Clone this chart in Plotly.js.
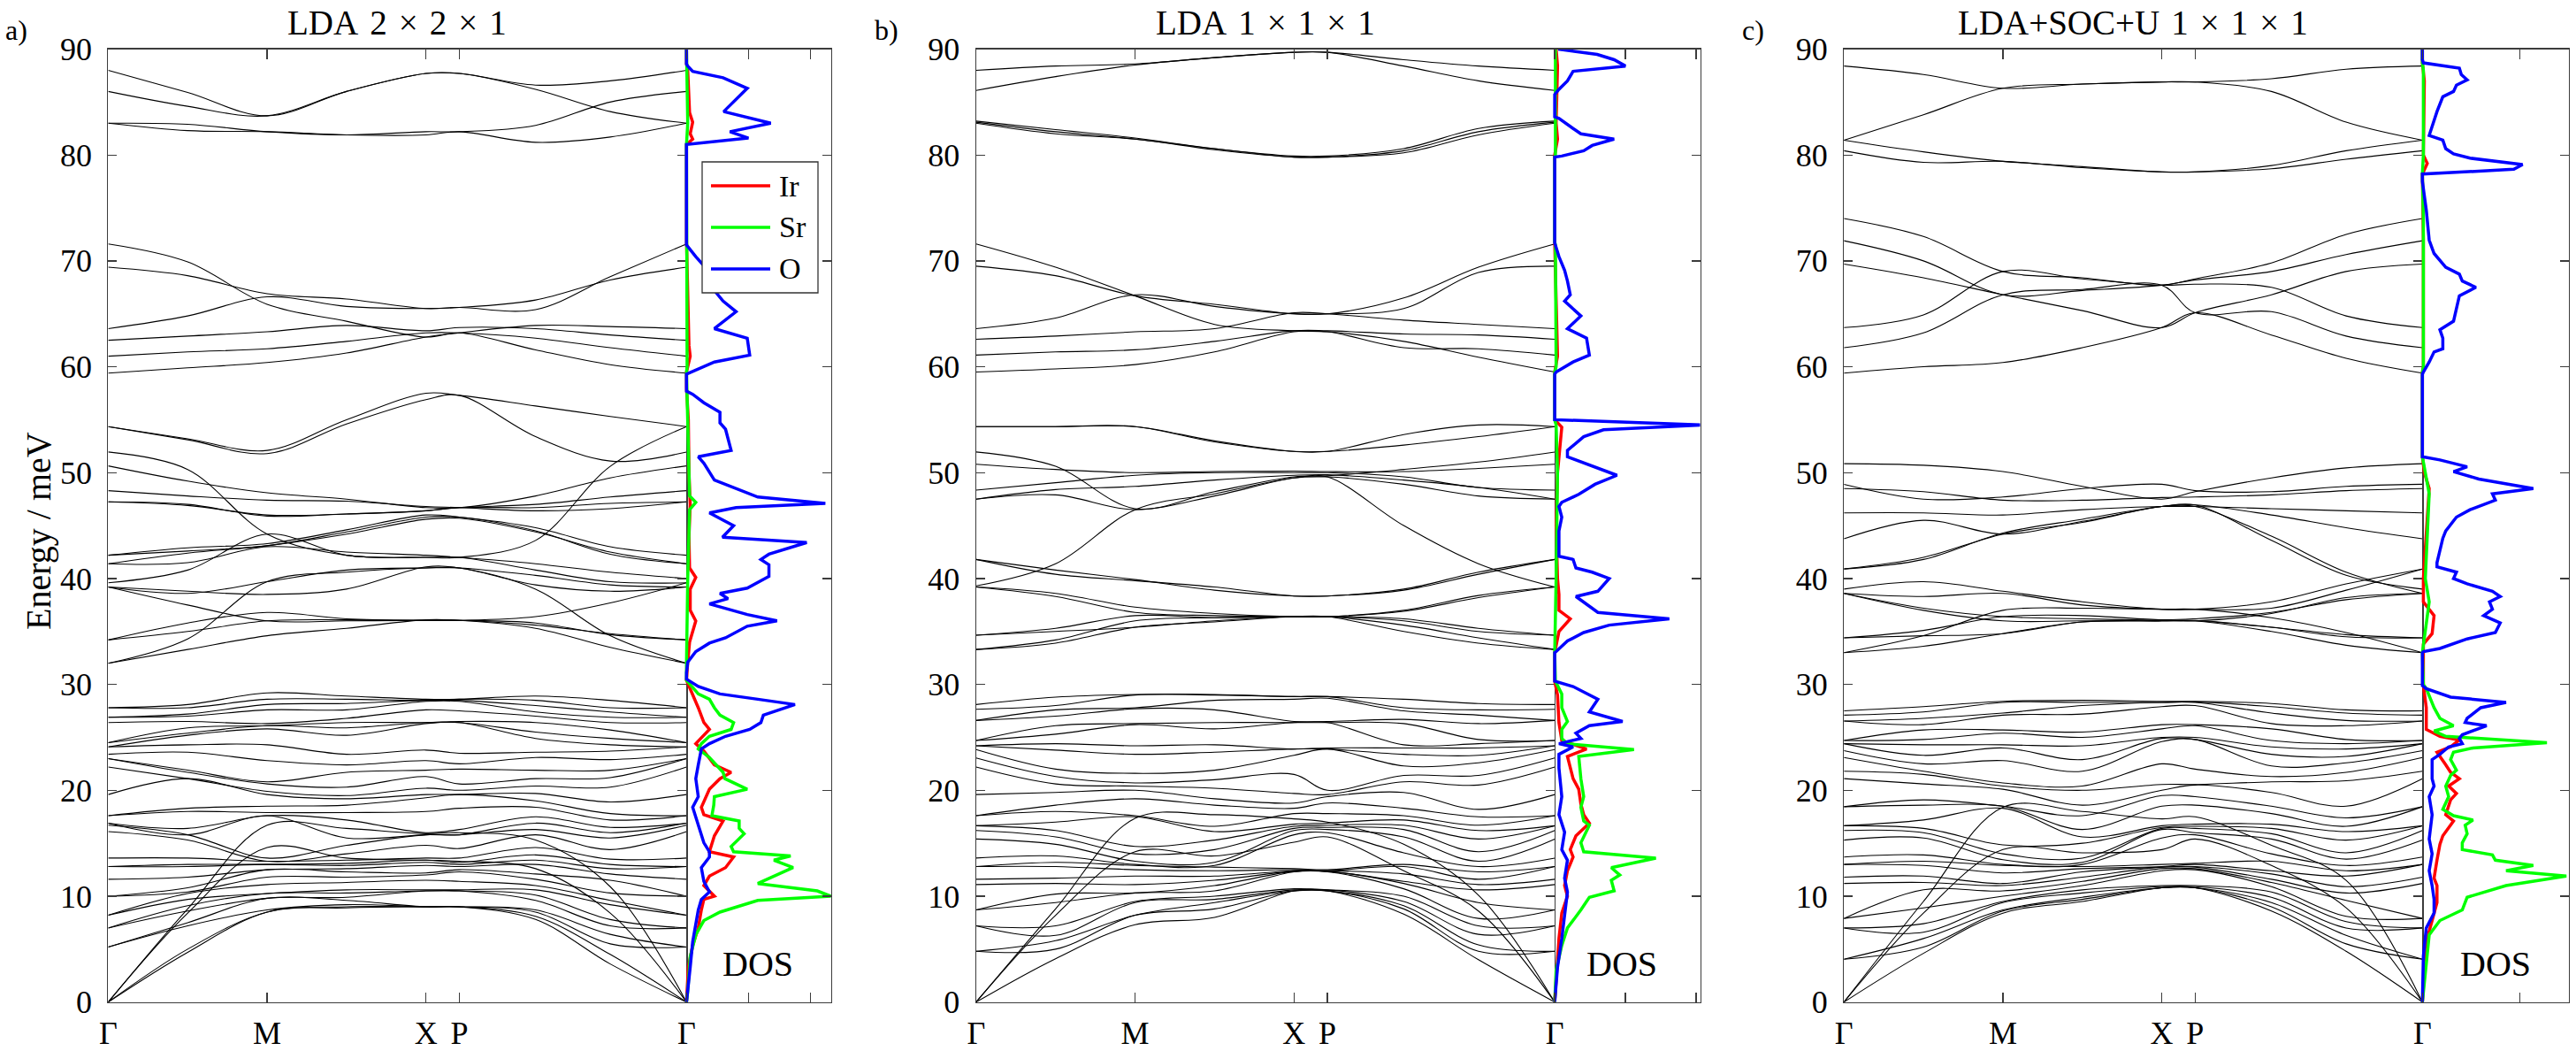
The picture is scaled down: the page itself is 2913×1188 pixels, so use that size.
<!DOCTYPE html>
<html>
<head>
<meta charset="utf-8">
<script src="https://cdn.plot.ly/plotly-3.0.1.min.js"></script>
<style>html,body{margin:0;padding:0;background:#fff}#chart{width:2913px;height:1188px}</style>
</head>
<body>
<div id="chart"></div>
<script>
// Phonon dispersion along Γ–M–X–P–Γ with element-projected DOS, three calculations.

// sampled path coordinates and high-symmetry labels
const kPath = [0, 0.5, 1, 1.5, 2, 2.21, 2.69, 3.16, 3.64];
const kTicks = [0, 1, 2, 2.21, 3.64];
const kLabels = ['Γ', 'M', 'X', 'P', 'Γ'];
const panelTitles = ['LDA\u20042\u2004×\u20042\u2004×\u20041', 'LDA\u20041\u2004×\u20041\u2004×\u20041', 'LDA+SOC+U\u20041\u2004×\u20041\u2004×\u20041'];
const panelLetters = ['a)', 'b)', 'c)'];
const elements = ['Ir', 'Sr', 'O'];
const energyLabel = 'Energy / meV';

// ---- a) LDA 2x2x1 : bands (meV), one row per branch at kPath ----
const aTop = [
  [88.0, 85.9, 83.7, 86.0, 87.7, 87.7, 86.2, 84.1, 83.0],
  [86.0, 84.6, 83.7, 86.0, 87.7, 87.7, 86.6, 87.0, 88.0],
  [83.0, 82.9, 82.2, 81.9, 82.2, 82.2, 82.8, 85.0, 86.0],
  [83.0, 82.3, 82.2, 81.9, 81.9, 82.2, 81.2, 81.7, 83.0]
];
const aOpt = [
  [71.6, 69.9, 65.9, 64.3, 62.8, 63.2, 61.6, 60.2, 59.4],
  [69.4, 68.6, 66.9, 66.4, 65.5, 65.6, 65.4, 68.5, 71.6],
  [63.6, 64.8, 66.6, 65.7, 65.5, 65.6, 66.3, 68.2, 69.4],
  [62.5, 62.9, 63.3, 63.9, 63.4, 63.7, 63.6, 63.0, 62.5],
  [61.0, 61.4, 61.7, 62.4, 63.2, 63.2, 62.7, 61.8, 61.0],
  [59.4, 59.9, 60.4, 61.3, 62.8, 63.2, 63.9, 63.8, 63.6]
];
const aMid = [
  [54.35, 53.2, 52.1, 55.0, 57.5, 57.3, 56.3, 55.3, 54.35],
  [54.35, 53.1, 51.8, 54.6, 56.9, 57.3, 53.4, 51.1, 51.95],
  [51.95, 50.3, 44.2, 42.2, 42.0, 42.0, 43.6, 50.6, 54.35],
  [50.64, 49.2, 48.1, 47.5, 46.7, 46.7, 47.8, 49.5, 50.64],
  [48.3, 47.8, 47.4, 47.3, 46.8, 46.7, 46.4, 46.6, 47.24],
  [47.24, 47.0, 45.9, 46.1, 46.4, 46.7, 47.0, 47.7, 48.3],
  [47.24, 46.9, 46.0, 46.1, 46.4, 46.7, 46.7, 47.1, 47.24],
  [42.2, 42.9, 43.3, 44.6, 46.0, 45.8, 44.8, 43.0, 42.2],
  [42.2, 42.6, 43.1, 44.4, 45.8, 45.8, 44.5, 42.3, 41.4],
  [41.4, 42.4, 43.1, 44.2, 45.6, 45.7, 44.4, 42.5, 41.4],
  [41.4, 41.5, 43.0, 42.5, 42.2, 42.0, 41.4, 40.6, 40.0],
  [39.6, 40.8, 44.2, 42.2, 42.0, 42.0, 40.8, 39.7, 39.6],
  [39.2, 38.6, 39.7, 40.8, 41.0, 41.0, 40.3, 39.4, 39.2],
  [39.2, 37.5, 36.0, 36.0, 36.05, 36.05, 35.6, 34.8, 34.2],
  [39.2, 38.8, 38.5, 39.0, 41.1, 41.0, 39.4, 38.8, 39.2],
  [34.2, 35.8, 36.8, 36.2, 36.05, 36.05, 36.4, 37.7, 39.6],
  [34.2, 35.0, 36.0, 36.1, 36.05, 36.05, 35.8, 34.7, 34.2],
  [32.0, 34.3, 39.7, 40.6, 41.0, 41.0, 39.0, 34.6, 32.0],
  [32.0, 33.3, 34.6, 35.3, 36.1, 36.05, 35.3, 33.5, 32.0]
];
// steep acoustic branches leaving Γ
const aAcoustic = [
  [0, 8.8, 16.7, 16.4, 15.9, 16.0, 15.3, 10.9, 0],
  [0, 8.4, 14.6, 13.6, 13.4, 13.3, 12.6, 8.4, 0]
];
// low-energy manifold: sorted energies at each kPath point (acoustic branches included)
const aLowByK = [
  [0,0,0,0,5.2,5.2,7.0,7.0,8.2,8.2,10.0,10.0,11.6,12.8,12.8,13.6,16.1,16.7,16.9,16.9,17.6,17.6,19.6,22.2,23.0,23.0,23.4,24.1,24.1,24.5,24.5,26.4,26.9,26.9,27.8,27.8],
  [4.7,5.0,7.2,7.5,8.4,8.6,8.8,9.1,9.7,10.25,10.4,10.8,11.8,12.8,13.0,13.6,15.3,15.8,15.8,16.4,18.0,18.3,21.1,21.1,21.7,21.9,23.6,24.3,25.2,25.4,25.9,26.5,27.0,27.2,27.8,28.1],
  [8.5,8.5,8.7,9.8,9.8,10.25,10.25,11.1,11.8,12.5,12.5,13.0,13.0,13.3,13.3,13.6,14.6,16.7,17.6,17.6,17.9,18.5,19.6,19.9,20.6,20.8,22.8,24.3,25.8,26.1,26.1,26.3,27.6,28.1,28.6,29.2],
  [8.9,9.0,9.2,9.6,9.9,10.3,10.6,11.3,11.8,12.3,12.6,12.9,13.1,13.4,13.6,14.0,14.8,15.5,16.4,17.2,17.9,18.6,19.2,19.5,20.3,21.7,22.4,23.4,25.2,25.9,26.4,26.8,27.6,28.2,28.6,28.9],
  [9.0,9.0,9.0,9.0,10.5,10.5,10.6,11.5,12.0,12.2,12.9,13.2,13.4,13.4,13.6,14.8,15.8,15.8,15.9,16.0,18.0,19.3,19.6,20.2,21.3,21.9,22.8,23.8,26.3,26.4,26.4,27.6,28.4,28.5,28.5,28.6],
  [9.0,9.0,9.0,9.0,10.5,10.5,10.6,11.4,12.3,12.5,12.8,13.0,13.2,13.3,13.6,14.5,15.8,15.8,16.0,16.3,18.3,19.6,19.6,20.0,20.6,22.0,22.5,23.5,26.4,26.4,26.5,27.5,28.4,28.5,28.6,28.6],
  [7.8,8.1,8.5,8.7,9.6,10.1,10.6,11.0,11.6,12.1,12.6,13.0,13.4,13.9,14.6,15.3,15.8,16.3,16.9,17.5,18.4,19.0,19.7,20.4,21.1,21.9,23.1,23.6,24.9,25.5,26.4,27.0,27.4,28.0,28.5,28.9],
  [3.6,4.5,5.5,6.4,7.2,7.8,8.4,9.2,9.6,10.3,10.9,11.5,12.1,12.6,13.0,13.5,14.4,15.5,16.0,16.5,17.2,17.8,18.9,20.3,21.2,21.9,22.9,23.7,24.3,24.9,25.7,26.4,26.9,27.4,27.8,28.5],
  [0,0,0,0,5.2,5.2,7.0,7.0,8.2,8.2,10.0,10.0,11.6,12.8,12.8,13.6,16.1,16.7,16.9,16.9,17.6,17.6,19.6,22.2,23.0,23.0,23.4,24.1,24.1,24.5,24.5,26.4,26.9,26.9,27.8,27.8]
];
// projected DOS, [energy meV, DOS]
const aIr = [[0,0],[3.3,0.03],[5.35,0.1],[7.0,0.19],[8.7,0.24],[9.7,0.28],[10.0,0.45],[11.0,0.28],[11.9,0.37],[12.7,0.63],[13.7,0.76],[14.2,0.37],[15.7,0.45],[17.1,0.59],[17.7,0.28],[18.4,0.24],[20.1,0.37],[21.1,0.54],[21.7,0.72],[22.4,0.45],[23.7,0.28],[24.4,0.15],[25.75,0.37],[26.4,0.28],[27.8,0.19],[29.1,0.1],[30.4,0],[32.1,0.02],[34,0.05],[36,0.15],[37,0.06],[39,0.06],[40.1,0.15],[41,0.05],[44,0.04],[47,0.06],[50,0.04],[55,0.03],[58,0],[59.5,0],[61,0.06],[62,0.04],[70,0.01],[72,0],[81,0],[81.5,0.1],[82,0.06],[83.1,0.1],[84,0.05],[88,0.02],[88.6,0],[90,0]];
const aSr = [[0,0],[1.0,0.02],[4.3,0.06],[6.35,0.15],[7.7,0.28],[8.5,0.54],[9.6,1.15],[10.0,2.33],[10.5,2.11],[11.2,1.15],[12.7,1.72],[13.4,1.41],[13.8,1.68],[14.2,0.76],[14.7,0.72],[15.9,0.93],[16.4,0.85],[17.1,0.85],[17.6,0.41],[18.6,0.44],[19.4,0.45],[20.1,0.98],[21.1,0.62],[21.7,0.59],[23.1,0.37],[23.9,0.19],[24.4,0.24],[25.1,0.37],[25.75,0.72],[26.4,0.76],[27.1,0.54],[27.8,0.45],[28.6,0.37],[29.1,0.19],[30.4,0],[32,0],[40,0.02],[46.5,0.05],[47.2,0.15],[47.8,0.05],[50,0.04],[55,0.02],[57.6,0],[59.5,0],[60,0.01],[70,0.01],[71.6,0],[81,0],[83,0.02],[88,0.01],[88.6,0],[90,0]];
const aO = [[0,0],[1.0,0.02],[3.3,0.06],[5.7,0.1],[7.4,0.15],[8.7,0.19],[9.7,0.24],[10.4,0.37],[11.4,0.28],[12.7,0.24],[13.7,0.37],[14.2,0.37],[15.05,0.28],[16.7,0.19],[18.4,0.1],[19.4,0.19],[21.1,0.15],[22.4,0.19],[23.9,0.24],[24.4,0.37],[25.1,0.63],[25.75,1.02],[26.4,1.2],[27.1,1.24],[28.1,1.75],[28.6,1.15],[29.1,0.54],[29.8,0.19],[30.5,0],[31.1,0],[32.1,0.02],[33.1,0.15],[33.9,0.37],[34.4,0.63],[35.5,0.98],[36.0,1.46],[36.6,0.98],[37.6,0.37],[38.1,0.67],[38.6,0.54],[39.1,0.98],[40.2,1.33],[41.3,1.33],[41.8,1.2],[42.3,1.33],[43.4,1.94],[43.9,0.58],[45.0,0.76],[46.2,0.37],[46.7,0.8],[47.1,2.24],[47.7,1.15],[49.3,0.45],[50.9,0.28],[51.5,0.19],[52.1,0.72],[54.1,0.63],[54.7,0.54],[55.7,0.54],[56.6,0.28],[57.4,0.1],[57.7,0],[59.3,0],[60.45,0.45],[61.1,1.02],[62.7,0.98],[63.2,0.67],[63.6,0.45],[65.2,0.8],[66.2,0.59],[67.2,0.45],[69.55,0.28],[70.4,0.15],[71.5,0],[81.0,0],[81.6,1.0],[82.2,0.7],[83.0,1.36],[84.1,0.6],[86.3,0.98],[87.3,0.59],[87.9,0.1],[88.4,0.02],[88.6,0],[90,0]];

// ---- b) LDA 1x1x1 ----
const bTop = [
  [88.0, 88.4, 88.6, 89.2, 89.7, 89.7, 89.0, 88.4, 88.0],
  [86.1, 87.4, 88.5, 89.2, 89.7, 89.7, 88.4, 87.0, 86.1],
  [83.2, 82.4, 81.6, 80.6, 79.9, 79.9, 80.6, 82.5, 83.2],
  [83.1, 82.2, 81.5, 80.6, 79.8, 79.8, 80.4, 82.2, 83.1],
  [83.0, 82.0, 81.5, 80.5, 79.8, 79.8, 80.2, 81.9, 83.0]
];
const bOpt = [
  [71.6, 69.4, 66.7, 64.0, 63.4, 63.3, 62.4, 60.9, 59.5],
  [69.5, 68.6, 66.7, 65.9, 65.0, 65.0, 66.5, 69.4, 71.6],
  [63.6, 64.6, 66.8, 65.7, 65.0, 65.0, 65.5, 68.9, 69.5],
  [62.6, 62.9, 63.3, 63.6, 65.1, 65.0, 64.4, 64.0, 63.6],
  [61.1, 61.4, 61.6, 62.4, 63.4, 63.4, 63.1, 63.0, 62.6],
  [59.5, 59.8, 60.2, 61.4, 63.3, 63.3, 61.8, 61.7, 61.1]
];
const bMid = [
  [54.35, 54.35, 54.35, 53.0, 52.0, 52.0, 53.6, 54.5, 54.35],
  [54.35, 54.35, 54.35, 52.9, 52.0, 52.0, 52.6, 53.4, 54.35],
  [51.95, 50.6, 46.6, 48.2, 49.6, 49.7, 50.3, 51.0, 51.95],
  [50.8, 50.3, 50.0, 50.1, 50.15, 50.1, 50.1, 50.4, 50.8],
  [48.35, 49.05, 49.75, 50.0, 50.0, 50.0, 49.6, 48.6, 48.35],
  [47.5, 48.4, 48.7, 49.3, 49.75, 49.8, 49.3, 48.6, 47.5],
  [47.5, 47.9, 46.5, 47.8, 49.5, 49.6, 48.9, 47.8, 47.5],
  [41.8, 40.8, 39.9, 38.9, 38.35, 38.35, 39.0, 40.6, 41.8],
  [41.8, 40.4, 39.8, 39.2, 38.35, 38.35, 38.9, 40.4, 41.8],
  [39.3, 41.4, 46.5, 48.0, 49.5, 49.6, 45.0, 41.4, 39.2],
  [39.2, 38.6, 37.3, 36.7, 36.4, 36.4, 37.0, 38.4, 39.2],
  [39.2, 38.3, 36.8, 36.5, 36.4, 36.4, 36.9, 38.2, 39.2],
  [34.65, 35.3, 36.5, 36.3, 36.4, 36.4, 36.2, 35.3, 34.65],
  [34.65, 35.0, 35.4, 36.0, 36.4, 36.4, 36.0, 35.0, 34.65],
  [33.3, 34.2, 36.0, 36.3, 36.4, 36.4, 35.6, 34.4, 33.3],
  [33.3, 33.9, 35.4, 35.9, 36.4, 36.4, 35.0, 33.9, 33.3]
];
const bAcoustic = [
  [0, 8.8, 17.35, 17.7, 17.3, 17.0, 14.9, 10.1, 0],
  [0, 8.2, 14.2, 13.8, 15.1, 15.6, 12.4, 8.6, 0]
];
const bLowByK = [
  [0,0,0,4.8,4.8,7.2,7.2,8.7,8.7,11.1,11.6,12.8,12.8,13.6,15.4,16.2,16.65,16.65,17.6,17.6,19.6,22.2,23.05,23.85,24.2,24.2,24.7,24.7,26.6,26.6,27.65,28.1],
  [4.1,5.0,5.8,6.3,7.2,8.2,8.8,9.4,10.2,11.2,11.7,12.8,13.2,13.8,14.9,15.6,16.2,17.0,18.0,18.6,19.8,20.6,21.3,22.0,23.8,24.4,25.3,26.1,27.0,27.6,28.0,28.8],
  [7.3,8.2,8.2,9.4,9.5,10.3,10.3,11.1,11.9,12.5,12.9,13.0,13.3,14.0,14.2,14.7,17.35,17.5,17.6,19.2,20.0,20.4,20.7,21.6,23.4,24.2,26.2,26.3,27.7,27.8,29.0,29.05],
  [8.0,8.8,9.4,9.7,10.0,10.5,11.0,11.5,11.9,12.4,12.75,12.9,13.2,13.8,14.4,15.3,16.1,16.6,17.7,18.6,19.2,20.2,21.0,21.9,23.6,24.3,25.8,26.4,27.6,28.5,29.0,29.05],
  [10.5,10.5,10.5,10.6,10.7,12.3,12.35,12.35,12.4,12.5,12.6,15.1,15.8,16.2,16.4,16.6,16.8,17.3,17.8,18.3,18.8,19.7,21.5,23.3,23.9,23.9,26.4,26.4,26.5,28.6,28.85,28.85],
  [10.5,10.5,10.5,10.6,10.6,12.3,12.35,12.35,12.4,12.4,12.5,15.6,16.0,16.3,16.5,16.7,16.9,17.0,17.8,18.8,19.4,19.6,20.0,23.9,23.9,24.0,26.4,26.4,26.5,28.7,28.85,28.85],
  [8.3,8.8,9.1,9.5,10.0,10.7,11.2,11.4,12.1,12.4,12.8,13.0,14.1,14.9,15.6,16.3,16.7,17.2,17.6,18.3,19.8,20.8,21.4,22.3,23.4,24.0,24.3,26.3,26.7,27.5,27.8,28.6],
  [4.0,4.8,5.4,6.4,7.2,7.9,8.6,9.4,10.1,10.6,11.1,11.6,12.3,12.8,13.3,14.2,15.4,16.2,16.7,17.5,18.2,20.5,21.4,22.6,23.3,24.0,24.4,24.8,26.3,27.1,27.6,28.2],
  [0,0,0,4.8,4.8,7.2,7.2,8.7,8.7,11.1,11.6,12.8,12.8,13.6,15.4,16.2,16.65,16.65,17.6,17.6,19.6,22.2,23.05,23.85,24.2,24.2,24.7,24.7,26.6,26.6,27.65,28.1]
];
const bIr = [[0,0],[6.0,0.06],[8.4,0.1],[10.0,0.18],[11.0,0.14],[12.4,0.18],[13.7,0.26],[14.4,0.22],[15.7,0.3],[16.9,0.49],[17.7,0.41],[18.7,0.37],[20.1,0.34],[21.1,0.26],[23.2,0.18],[23.9,0.45],[24.7,0.1],[26.4,0.06],[29,0.04],[30.3,0],[33,0],[35,0.06],[36.2,0.22],[37,0.06],[38.5,0.06],[40,0.04],[45,0.02],[50,0.04],[54.3,0.1],[55,0],[59.5,0],[61,0.04],[71.7,0],[80,0],[81.5,0.04],[83,0.02],[88.4,0.04],[90,0.02]];
const bSr = [[0,0],[3.0,0.02],[5.35,0.1],[7.0,0.18],[8.7,0.37],[9.9,0.49],[10.5,0.84],[11.5,0.8],[12.0,0.92],[12.7,0.8],[13.6,1.43],[14.2,0.41],[15.05,0.37],[16.7,0.49],[17.1,0.41],[18.4,0.37],[19.4,0.41],[21.1,0.37],[23.2,0.34],[23.85,1.12],[24.4,0.18],[24.9,0.1],[25.75,0.1],[26.5,0.18],[27.8,0.1],[29.1,0.1],[30.3,0.01],[33,0],[40,0.02],[50,0.04],[54.5,0.02],[55,0],[59.5,0],[60,0.02],[71.5,0.01],[71.8,0],[79.8,0],[80,0.01],[90,0.01]];
const bO = [[0,0],[3.3,0.04],[6.0,0.1],[8.4,0.14],[10.4,0.18],[11.7,0.14],[13.4,0.18],[14.4,0.1],[16.05,0.14],[17.7,0.06],[19.4,0.1],[22.1,0.06],[23.4,0.06],[24.1,0.26],[24.4,0.06],[24.9,0.37],[25.4,0.3],[26.1,0.49],[26.5,0.96],[27.4,0.49],[28.6,0.61],[29.8,0.26],[30.3,0],[33.0,0],[33.1,0.02],[34.1,0.18],[34.9,0.41],[35.6,0.77],[36.2,1.62],[36.8,0.61],[38.3,0.3],[38.8,0.61],[40.0,0.77],[40.6,0.53],[41.0,0.3],[41.8,0.26],[42.1,0.06],[44.5,0.06],[45.8,0.1],[46.8,0.06],[47.2,0.1],[47.95,0.34],[48.9,0.57],[49.75,0.88],[50.9,0.41],[51.5,0.18],[52.1,0.18],[53.4,0.41],[54.05,0.69],[54.5,2.1],[55.0,0],[59.3,0],[59.5,0.02],[60.45,0.26],[61.1,0.49],[62.7,0.45],[63.6,0.18],[64.8,0.37],[66.2,0.14],[66.8,0.22],[68.1,0.18],[69.1,0.14],[70.4,0.06],[71.7,0],[79.8,0],[79.9,0.1],[80.4,0.41],[80.9,0.53],[81.5,0.84],[82.0,0.37],[82.5,0.26],[83.45,0.06],[83.6,0],[85.7,0],[86.2,0.06],[87.0,0.18],[87.9,0.26],[88.4,1.0],[89.0,0.84],[89.5,0.6],[90,0.05]];

// ---- c) LDA+SOC+U 1x1x1 ----
const cTop = [
  [88.4, 87.6, 86.3, 86.7, 86.9, 86.9, 87.2, 88.1, 88.4],
  [81.4, 83.8, 86.3, 86.7, 86.9, 86.9, 86.0, 83.1, 81.4],
  [81.4, 80.3, 79.4, 78.9, 78.4, 78.4, 79.0, 80.4, 81.4],
  [80.4, 79.3, 79.4, 78.8, 78.4, 78.4, 78.7, 79.6, 80.4]
];
const cOpt = [
  [74.0, 72.3, 69.0, 68.4, 67.7, 68.3, 69.8, 72.5, 74.0],
  [71.9, 70.0, 66.8, 67.2, 67.7, 68.2, 69.0, 70.6, 71.9],
  [69.7, 68.4, 66.8, 65.3, 63.7, 65.1, 66.8, 69.0, 69.7],
  [63.7, 64.9, 69.0, 68.3, 67.7, 67.8, 67.5, 64.8, 63.7],
  [61.8, 63.2, 66.8, 67.3, 67.7, 65.1, 65.2, 62.9, 61.8],
  [59.4, 60.0, 60.4, 61.8, 63.7, 65.1, 63.0, 60.8, 59.4]
];
const cMid = [
  [50.85, 50.7, 50.1, 48.7, 47.5, 48.2, 49.5, 50.45, 50.85],
  [48.9, 47.5, 47.7, 48.5, 48.9, 48.3, 48.2, 48.7, 48.9],
  [48.5, 48.2, 47.4, 47.4, 47.65, 47.7, 47.9, 48.3, 48.5],
  [46.2, 46.2, 46.0, 46.5, 46.8, 46.8, 46.6, 46.4, 46.2],
  [43.75, 45.5, 44.2, 45.4, 46.8, 46.95, 46.0, 44.8, 43.75],
  [40.9, 42.0, 44.2, 45.3, 46.8, 46.8, 44.0, 40.6, 38.6],
  [40.9, 41.8, 44.3, 45.6, 46.8, 46.95, 43.6, 40.3, 39.0],
  [39.0, 39.7, 38.8, 37.8, 37.1, 37.1, 37.8, 39.5, 40.9],
  [38.6, 38.3, 38.6, 37.5, 37.1, 37.1, 37.2, 38.9, 40.9],
  [38.6, 37.2, 36.4, 36.2, 36.05, 36.0, 36.7, 38.2, 38.6],
  [38.6, 37.0, 36.0, 36.0, 36.0, 36.0, 35.4, 34.7, 34.4],
  [34.4, 35.1, 36.4, 36.5, 36.1, 36.2, 36.8, 38.0, 38.6],
  [34.4, 34.6, 34.8, 35.9, 36.0, 36.05, 35.4, 34.5, 34.4],
  [33.0, 34.6, 37.0, 37.2, 37.1, 37.1, 36.3, 34.9, 33.0],
  [33.0, 33.6, 34.8, 35.9, 36.0, 36.0, 35.0, 33.7, 33.0]
];
const cAcoustic = [
  [0, 9.5, 18.4, 18.0, 17.3, 17.5, 14.8, 11.5, 0],
  [0, 8.4, 14.4, 14.1, 14.4, 15.4, 12.9, 8.9, 0]
];
const cLowByK = [
  [0,0,0,4.05,4.05,7.0,7.0,7.9,7.9,11.2,11.8,13.0,13.0,13.7,15.3,16.2,16.65,16.65,18.45,18.45,21.1,21.8,23.1,23.75,24.4,24.4,24.7,24.7,26.55,26.55,27.1,27.5],
  [4.6,5.2,6.0,6.6,7.4,8.4,8.9,9.5,10.6,11.3,11.9,12.9,13.3,13.9,15.5,16.0,16.4,17.2,18.6,19.1,20.6,21.5,21.8,22.5,23.3,24.3,24.8,25.7,26.2,26.8,27.4,27.9],
  [8.4,8.6,8.7,9.4,9.5,10.0,10.5,11.0,11.2,12.2,12.9,13.0,13.45,14.0,14.4,14.85,18.3,18.4,18.5,18.5,20.1,20.4,20.7,22.8,24.0,24.3,25.4,25.7,27.1,27.3,28.3,28.4],
  [9.5,9.7,9.9,10.3,10.6,11.0,11.4,11.8,12.3,12.6,12.8,13.0,13.2,13.6,14.1,15.0,15.6,16.3,17.6,18.0,18.6,20.0,20.4,21.8,22.9,24.2,25.0,25.5,27.2,28.0,28.3,28.5],
  [10.8,10.8,10.8,10.9,11.0,12.4,12.6,12.75,12.75,12.8,13.0,14.4,15.5,16.3,16.4,16.5,16.65,17.3,18.5,19.5,20.0,20.55,22.5,24.6,24.9,25.0,25.8,26.2,27.9,28.3,28.3,28.4],
  [10.8,10.8,10.8,10.9,11.0,12.5,12.6,12.75,12.8,13.0,13.1,15.4,15.8,16.0,16.4,16.6,16.8,17.5,18.6,19.4,20.5,20.55,22.0,24.8,24.8,25.0,26.1,26.2,28.0,28.3,28.35,28.4],
  [8.6,9.0,9.4,9.9,10.4,10.9,11.3,11.6,12.1,12.4,12.9,13.3,14.0,14.8,15.4,15.9,16.4,16.8,17.8,18.5,19.8,20.8,21.3,22.3,23.4,24.1,24.7,25.8,26.3,27.3,27.9,28.2],
  [4.8,5.5,6.3,7.0,7.6,8.1,8.9,9.6,10.3,10.9,11.5,11.9,12.4,12.9,13.5,14.1,15.3,16.1,16.6,17.4,18.5,20.9,21.7,22.6,23.2,23.9,24.4,24.8,26.1,26.6,27.3,27.6],
  [0,0,0,4.05,4.05,7.0,7.0,7.9,7.9,11.2,11.8,13.0,13.0,13.7,15.3,16.2,16.65,16.65,18.45,18.45,21.1,21.8,23.1,23.75,24.4,24.4,24.7,24.7,26.55,26.55,27.1,27.5]
];
const cIr = [[0,0],[5.7,0.04],[7.7,0.1],[9.4,0.15],[11.0,0.15],[11.7,0.12],[13.4,0.15],[14.9,0.18],[15.7,0.21],[17.1,0.32],[17.7,0.24],[19.1,0.29],[19.7,0.35],[20.4,0.27],[21.1,0.38],[21.7,0.29],[22.4,0.24],[23.6,0.15],[24.1,0.29],[24.75,0.38],[25.1,0.18],[25.75,0.04],[27.8,0.04],[29.9,0.01],[33.8,0.01],[34.8,0.1],[36.5,0.12],[37.8,0.01],[40,0.01],[48.5,0.07],[50,0.02],[51.5,0],[59.5,0],[60,0.01],[72,0.01],[77.5,0],[78.2,0],[79.2,0.05],[80,0.01],[87,0.02],[88.7,0],[90,0]];
const cSr = [[0,0],[4.0,0.04],[6.35,0.07],[7.7,0.18],[8.7,0.41],[9.9,0.46],[11.0,0.86],[11.9,1.48],[12.4,0.86],[12.9,1.14],[13.4,0.75],[13.9,0.72],[14.4,0.41],[15.05,0.41],[15.9,0.46],[16.7,0.44],[17.2,0.52],[17.6,0.32],[18.2,0.21],[19.4,0.27],[20.4,0.24],[21.4,0.29],[21.9,0.35],[22.9,0.29],[23.6,0.32],[24.0,0.52],[24.5,1.28],[25.1,0.24],[25.6,0.12],[26.1,0.32],[26.8,0.18],[27.8,0.12],[29.6,0.04],[30,0.01],[33,0],[37.8,0.07],[40,0.03],[48,0.07],[50,0.03],[51.5,0],[59.5,0],[60,0.01],[74,0.01],[77.5,0],[78.2,0],[80,0.01],[88,0.01],[88.7,0],[90,0]];
const cO = [[0,0],[4.35,0.01],[7.0,0.04],[8.4,0.12],[9.7,0.12],[11.0,0.1],[12.4,0.07],[14.0,0.1],[15.4,0.07],[17.7,0.1],[19.4,0.07],[20.4,0.12],[21.1,0.1],[22.9,0.1],[23.4,0.18],[24.1,0.27],[24.4,0.41],[24.9,0.38],[25.25,0.41],[26.1,0.66],[26.4,0.44],[26.8,0.46],[27.8,0.6],[28.3,0.86],[28.8,0.29],[29.6,0.04],[29.9,0],[33.0,0],[33.1,0.01],[33.4,0.18],[34.3,0.46],[34.9,0.75],[35.8,0.8],[36.5,0.63],[37.1,0.72],[37.8,0.69],[38.3,0.8],[38.8,0.72],[39.5,0.46],[40.0,0.32],[40.6,0.35],[41.1,0.15],[41.5,0.15],[43.8,0.21],[44.5,0.24],[45.8,0.35],[46.5,0.49],[47.4,0.75],[48.0,0.72],[48.5,1.14],[49.4,0.58],[50.1,0.32],[50.55,0.46],[51.2,0.18],[51.5,0],[59.3,0],[59.5,0.01],[60.45,0.07],[61.4,0.12],[61.7,0.21],[62.7,0.21],[63.5,0.18],[64.3,0.32],[65.4,0.35],[66.7,0.38],[67.5,0.55],[68.1,0.41],[68.75,0.38],[69.4,0.24],[70.7,0.12],[71.95,0.07],[74.8,0.04],[77.5,0],[78.2,0],[78.65,0.94],[79.1,1.03],[79.7,0.49],[80.1,0.32],[80.6,0.24],[81.4,0.21],[81.85,0.07],[84.1,0.15],[85.5,0.21],[86.0,0.32],[86.6,0.35],[87.1,0.46],[87.6,0.4],[88.2,0.38],[88.7,0.01],[89,0],[90,0]];

// ---------------- drawing ----------------
const FONT = 'Liberation Serif, Times New Roman, Times, serif';
const AXC = '#3c3c3c';
const W = 2913, H = 1188;
const px = v => v / W;
const py = v => 1 - v / H;
const yDom = [py(1132.7), py(55.5)];
const frames = [
  {band: [122.4, 776.3], dosEnd: 939.8, unit: 70.1},
  {band: [1103.8, 1758.1], dosEnd: 1922.5, unit: 80.0},
  {band: [2085.2, 2739.3], dosEnd: 2905.0, unit: 110.0}
];
const panels = [
  {groups: [aTop, aOpt, aMid], acoustic: aAcoustic, low: aLowByK, dos: [aIr, aSr, aO]},
  {groups: [bTop, bOpt, bMid], acoustic: bAcoustic, low: bLowByK, dos: [bIr, bSr, bO]},
  {groups: [cTop, cOpt, cMid], acoustic: cAcoustic, low: cLowByK, dos: [cIr, cSr, cO]}
];
const dosColors = ['#ff0000', '#00ff00', '#0000ff'];

const sfx = n => (n === 1 ? '' : String(n));

// split the sorted low manifold into branches, leaving out the values that
// belong to the separately listed steep acoustic branches
function lowBranches(cols, acoustic) {
  const trimmed = cols.map((col, k) => {
    const c = col.slice();
    acoustic.forEach(a => {
      const idx = c.findIndex(v => Math.abs(v - a[k]) < 1e-9);
      if (idx >= 0) c.splice(idx, 1);
    });
    return c;
  });
  const n = Math.min(...trimmed.map(c => c.length));
  const out = [];
  for (let i = 0; i < n; i++) out.push(trimmed.map(c => c[i]));
  return out;
}

const traces = [];
const layout = {
  width: W, height: H,
  margin: {l: 0, r: 0, t: 0, b: 0, pad: 0},
  paper_bgcolor: '#ffffff', plot_bgcolor: 'rgba(0,0,0,0)',
  showlegend: false,
  font: {family: FONT, color: '#000'},
  annotations: [], shapes: []
};

panels.forEach((p, i) => {
  const bn = 2 * i + 1, dn = 2 * i + 2;
  const f = frames[i];
  const bands = [].concat(...p.groups, p.acoustic, lowBranches(p.low, p.acoustic));
  bands.forEach(e => traces.push({
    type: 'scatter', mode: 'lines', x: kPath, y: e,
    xaxis: 'x' + sfx(bn), yaxis: 'y' + sfx(bn),
    line: {color: '#000', width: 1.1, shape: 'spline', smoothing: 1},
    hoverinfo: 'skip'
  }));
  p.dos.forEach((d, j) => traces.push({
    type: 'scatter', mode: 'lines', name: elements[j],
    x: d.map(q => q[1]), y: d.map(q => q[0]),
    xaxis: 'x' + sfx(dn), yaxis: 'y' + sfx(dn),
    line: {color: dosColors[j], width: 3.5},
    hoverinfo: 'skip'
  }));

  const common = {
    showline: true, linecolor: AXC, linewidth: 1.3,
    ticks: 'inside', tickcolor: AXC, tickwidth: 1.3,
    showgrid: false, zeroline: false, fixedrange: true
  };
  layout['xaxis' + sfx(bn)] = Object.assign({}, common, {
    domain: [px(f.band[0]), px(f.band[1])], range: [0, 3.64],
    anchor: 'y' + sfx(bn), tickmode: 'array', tickvals: kTicks, ticktext: kLabels,
    ticklen: 11, mirror: 'ticks', tickangle: 0, ticklabelstandoff: 3,
    tickfont: {family: FONT, size: 36, color: '#000'}
  });
  layout['yaxis' + sfx(bn)] = Object.assign({}, common, {
    domain: yDom, range: [0, 90], anchor: 'x' + sfx(bn),
    tick0: 0, dtick: 10, ticklen: 10, mirror: 'ticks', ticklabelstandoff: 10,
    tickfont: {family: FONT, size: 36, color: '#000'}
  });

  const lead = 3;
  layout['xaxis' + sfx(dn)] = Object.assign({}, common, {
    domain: [px(f.band[1] - lead), px(f.dosEnd)],
    range: [-lead / f.unit, (f.dosEnd - f.band[1]) / f.unit],
    anchor: 'y' + sfx(dn), tick0: 0, dtick: 1, ticklen: 11, mirror: 'ticks',
    showticklabels: false
  });
  layout['yaxis' + sfx(dn)] = Object.assign({}, common, {
    domain: yDom, range: [0, 90], anchor: 'x' + sfx(dn), side: 'right',
    tick0: 0, dtick: 10, ticklen: 10, mirror: false, showticklabels: false
  });

  const center = (f.band[0] + f.band[1]) / 2;
  layout.annotations.push({
    text: panelTitles[i], x: px(center), y: py(25), xref: 'paper', yref: 'paper',
    xanchor: 'center', yanchor: 'middle', showarrow: false,
    font: {family: FONT, size: 39, color: '#000'}
  });
  layout.annotations.push({
    text: panelLetters[i], x: px([18, 1002, 1982][i]), y: py(34), xref: 'paper', yref: 'paper',
    xanchor: 'center', yanchor: 'middle', showarrow: false,
    font: {family: FONT, size: 32, color: '#000'}
  });
  layout.annotations.push({
    text: 'DOS', x: px([857, 1834, 2822][i]), y: py(1089), xref: 'paper', yref: 'paper',
    xanchor: 'center', yanchor: 'middle', showarrow: false,
    font: {family: FONT, size: 40, color: '#000'}
  });
});

// energy axis label of panel a
layout.annotations.push({
  text: energyLabel, x: px(43), y: py(600), xref: 'paper', yref: 'paper',
  xanchor: 'center', yanchor: 'middle', textangle: -90, showarrow: false,
  font: {family: FONT, size: 40, color: '#000'}
});

// legend box inside panel a DOS
layout.shapes.push({type: 'rect', xref: 'paper', yref: 'paper',
  x0: px(794), x1: px(925), y0: py(331), y1: py(183),
  line: {color: '#333', width: 1.3}, fillcolor: '#ffffff', layer: 'above'});
[210, 257, 304].forEach((yy, j) => {
  layout.shapes.push({type: 'line', xref: 'paper', yref: 'paper',
    x0: px(804), x1: px(871), y0: py(yy), y1: py(yy),
    line: {color: dosColors[j], width: 3.5}, layer: 'above'});
  layout.annotations.push({text: elements[j], x: px(879), y: py(yy), xref: 'paper', yref: 'paper',
    xanchor: 'left', yanchor: 'middle', showarrow: false,
    font: {family: FONT, size: 34, color: '#000'}});
});

Plotly.newPlot('chart', traces, layout, {staticPlot: true, displayModeBar: false});
</script>
</body>
</html>
